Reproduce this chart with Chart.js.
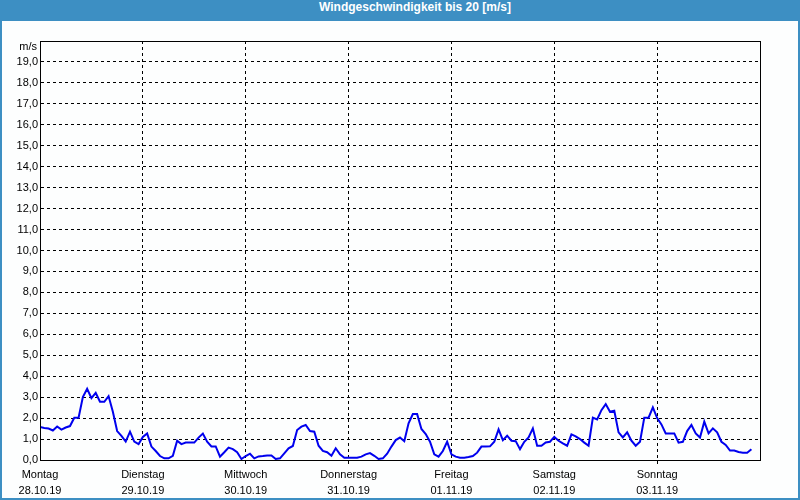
<!DOCTYPE html>
<html>
<head>
<meta charset="utf-8">
<script src="https://cdn.jsdelivr.net/npm/chart.js@4"></script>
<style>
  body { margin: 0; background: #fff; }
  #wrap { position: relative; width: 800px; height: 500px; background: #3d8fc3; }
  #title { position: absolute; left: 0; top: 0; width: 800px; height: 21px; line-height: 21px;
           color: #fff; font: bold 12px "Liberation Sans", Arial, sans-serif; text-align: center;
           padding-left: 30px; box-sizing: border-box; }
  #inner { position: absolute; left: 2px; top: 21px; width: 796px; height: 477px; background: #fdfefe; }
</style>
</head>
<body>
<div id="wrap">
  <div id="title">Windgeschwindigkeit bis 20 [m/s]</div>
  <div id="inner"><canvas id="windChart"></canvas></div>
</div>
<script>
// hourly wind speed, starting Monday 28.10.19 00:00
const dayNames = ['Montag', 'Dienstag', 'Mittwoch', 'Donnerstag', 'Freitag', 'Samstag', 'Sonntag'];
const dayDates = ['28.10.19', '29.10.19', '30.10.19', '31.10.19', '01.11.19', '02.11.19', '03.11.19'];
const windSpeed = [
    1.58, 1.53, 1.5, 1.41, 1.6, 1.45, 1.55, 1.62, 2.02, 2.02, 3.0, 3.4, 2.95, 3.2, 2.78, 2.78, 3.05, 2.3, 1.38, 1.15, 0.88, 1.35, 0.88, 0.76,
    1.1, 1.27, 0.64, 0.43, 0.19, 0.08, 0.08, 0.2, 0.92, 0.76, 0.83, 0.83, 0.83, 1.07, 1.26, 0.87, 0.65, 0.65, 0.16, 0.37, 0.59, 0.52, 0.37, 0.05,
    0.19, 0.3, 0.08, 0.17, 0.19, 0.22, 0.22, 0.05, 0.08, 0.32, 0.56, 0.67, 1.43, 1.59, 1.67, 1.38, 1.35, 0.68, 0.43, 0.37, 0.2, 0.56, 0.27, 0.11,
    0.11, 0.11, 0.11, 0.16, 0.27, 0.33, 0.2, 0.05, 0.08, 0.3, 0.64, 0.95, 1.07, 0.9, 1.75, 2.19, 2.19, 1.48, 1.24, 0.87, 0.27, 0.16, 0.43, 0.87,
    0.27, 0.16, 0.11, 0.11, 0.14, 0.19, 0.35, 0.64, 0.64, 0.65, 0.87, 1.46, 0.95, 1.16, 0.92, 0.9, 0.52, 0.87, 1.08, 1.51, 0.68, 0.68, 0.84, 0.87,
    1.1, 0.92, 0.79, 0.68, 1.22, 1.13, 1.0, 0.83, 0.68, 2.02, 1.94, 2.38, 2.67, 2.3, 2.35, 1.32, 1.08, 1.32, 0.92, 0.68, 0.87, 2.02, 2.02, 2.51,
    2.0, 1.7, 1.27, 1.27, 1.27, 0.83, 0.87, 1.38, 1.67, 1.27, 1.07, 1.83, 1.27, 1.51, 1.32, 0.87, 0.72, 0.45, 0.45, 0.38, 0.35, 0.35, 0.51
];
const yMax = 20;
const unitLabel = 'm/s';

const font = { family: '"Liberation Sans", Arial, sans-serif', size: 11 };
const xMax = dayNames.length * 24;

const framePlugin = {
    id: 'frame',
    afterDraw(chart) {
        const { ctx, chartArea } = chart;
        const l = Math.round(chartArea.left) + 0.5;
        const t = Math.round(chartArea.top) + 0.5;
        const r = Math.round(chartArea.right) + 0.5;
        const b = Math.round(chartArea.bottom) + 0.5;
        ctx.save();
        ctx.strokeStyle = '#000';
        ctx.lineWidth = 1;
        ctx.strokeRect(l, t, r - l, b - t);
        ctx.fillStyle = '#000';
        ctx.font = '11px ' + font.family;
        ctx.textAlign = 'right';
        ctx.textBaseline = 'middle';
        ctx.fillText(unitLabel, chartArea.left - 3, chart.scales.y.getPixelForValue(yMax) + 6);
        ctx.restore();
    }
};

const ctx = document.getElementById('windChart').getContext('2d');
const chart = new Chart(ctx, {
    type: 'line',
    data: {
        datasets: [{
            label: 'Wind',
            data: windSpeed.map((v, i) => ({ x: i, y: v })),
            borderColor: '#0000ee',
            borderWidth: 2,
            pointRadius: 0,
            tension: 0,
            fill: false
        }]
    },
    options: {
        responsive: true,
        maintainAspectRatio: false,
        animation: false,
        layout: { padding: { left: 0, top: 20, right: 38, bottom: 0 } },
        plugins: { legend: { display: false }, tooltip: { enabled: false } },
        scales: {
            x: {
                type: 'linear',
                min: 0,
                max: xMax,
                afterBuildTicks(scale) {
                    scale.ticks = [];
                    for (let d = 0; d <= dayNames.length; d++) scale.ticks.push({ value: d * 24 });
                },
                afterFit(scale) { scale.height = 38; },
                ticks: {
                    color: '#000',
                    font: { ...font, lineHeight: 1.45 },
                    padding: 2,
                    maxRotation: 0,
                    autoSkip: false,
                    callback(v) {
                        const d = Math.round(v / 24);
                        return d < dayNames.length ? [dayNames[d], dayDates[d]] : '';
                    }
                },
                grid: {
                    color: '#000',
                    tickLength: 5,
                    tickBorderDash: [3, 3],
                    tickColor: c => (c.tick && (c.tick.value === 0 || c.tick.value === xMax)) ? 'rgba(0,0,0,0)' : '#000'
                },
                border: { color: '#000', dash: [3, 3], display: true }
            },
            y: {
                min: 0,
                max: yMax,
                afterBuildTicks(scale) {
                    scale.ticks = [];
                    for (let v = 0; v <= yMax; v++) scale.ticks.push({ value: v });
                },
                afterFit(scale) { scale.width = 38; },
                ticks: {
                    color: '#000',
                    font: font,
                    padding: 2,
                    callback: v => v === yMax ? '' : v.toFixed(1).replace('.', ',')
                },
                grid: { color: '#000', drawTicks: false },
                border: { color: '#000', dash: [3, 3] }
            }
        }
    },
    plugins: [framePlugin]
});
</script>
</body>
</html>
